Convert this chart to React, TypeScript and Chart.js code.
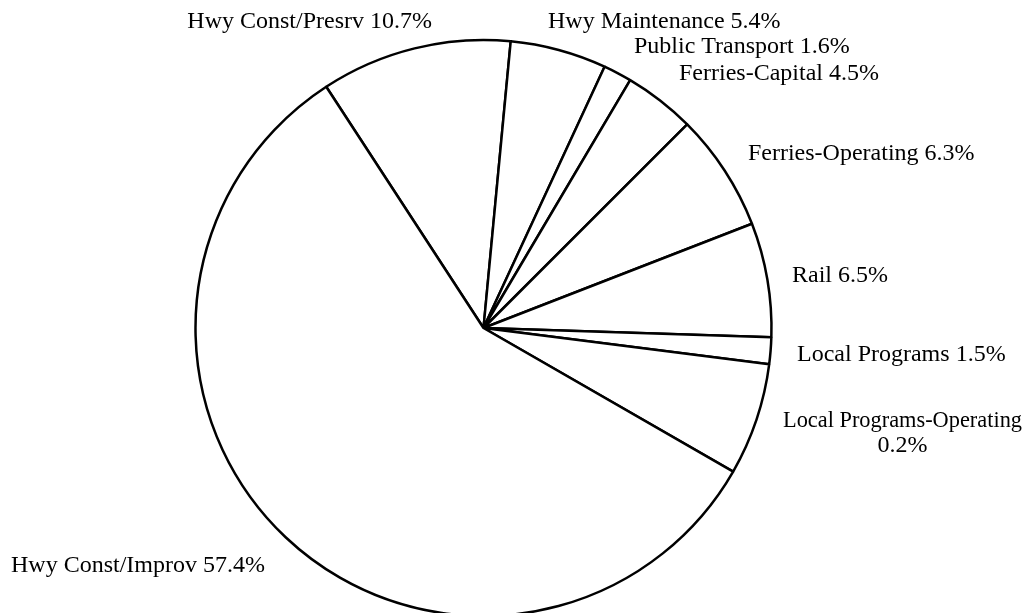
import React, { useEffect, useRef } from "react";
import { Chart, registerables } from "chart.js";

Chart.register(...registerables);

// Categories in drawing order (clockwise, starting at the upper-left boundary)
const categories = [
  "Hwy Const/Presrv",
  "Hwy Maintenance",
  "Public Transport",
  "Ferries-Capital",
  "Ferries-Operating",
  "Rail",
  "Local Programs",
  "Local Programs-Operating",
  "Hwy Const/Improv",
];

// Slice sizes as drawn in the picture (percent of the circle)
const sliceValues = [10.7, 5.4, 1.6, 4.0, 6.6, 6.4, 1.5, 6.3, 57.5];

// Percent texts as printed on the labels
const percentLabels = ["10.7%", "5.4%", "1.6%", "4.5%", "6.3%", "6.5%", "1.5%", "0.2%", "57.4%"];

// Layout: label nudges relative to the slice's outer mid-point [edge dx, baseline dy]
const labelNudges: [number, number][] = [
  [17.4, -20.1],
  [-10.7, -21.7],
  [16.4, -19.8],
  [18.9, -20.5],
  [23.2, -10.7],
  [24.6, 2.2],
  [26.4, 10],
  [26.5, 7.6],
  [-20.6, 34.7],
];

const START_ROTATION = -33.1;
const PIE_RADIUS = 288;
const FONT = '24px "Liberation Serif", "Times New Roman", serif';
const LINE_HEIGHT = 25;
const EDGE_MARGIN = 9;

const labelPlugin = {
  id: "outsideLabels",
  afterDatasetsDraw(chart: any) {
    const ctx: CanvasRenderingContext2D = chart.ctx;
    const meta = chart.getDatasetMeta(0);
    ctx.save();
    ctx.font = FONT;
    ctx.fillStyle = "#000000";
    ctx.textBaseline = "alphabetic";
    ctx.textAlign = "center";
    meta.data.forEach((arc: any, i: number) => {
      const { x, y, startAngle, endAngle, outerRadius } = arc.getProps(
        ["x", "y", "startAngle", "endAngle", "outerRadius"],
        true
      );
      const mid = (startAngle + endAngle) / 2;
      const ax = x + Math.cos(mid) * outerRadius;
      const ay = y + Math.sin(mid) * outerRadius;
      const rightSide = Math.cos(mid) >= 0;
      const [dx, dy] = labelNudges[i];
      const full = `${categories[i]} ${percentLabels[i]}`;
      const fullW = ctx.measureText(full).width;
      const edge = ax + dx;
      const room = rightSide ? chart.width - EDGE_MARGIN - edge : edge - EDGE_MARGIN;
      let lines = [full];
      if (fullW > room) {
        lines = [categories[i], percentLabels[i]];
      }
      const boxW = Math.min(room, Math.max(...lines.map((l) => ctx.measureText(l).width)));
      const left = rightSide ? edge : edge - boxW;
      lines.forEach((l, k) => {
        ctx.fillText(l, left + boxW / 2, ay + dy + k * LINE_HEIGHT, boxW);
      });
    });
    ctx.restore();
  },
};

export default function App() {
  const ref = useRef<HTMLCanvasElement>(null);

  useEffect(() => {
    if (!ref.current) return;
    const chart = new Chart(ref.current, {
      type: "pie",
      data: {
        labels: categories,
        datasets: [
          {
            data: sliceValues,
            backgroundColor: "#ffffff",
            borderColor: "#000000",
            borderWidth: 2.5,
            rotation: START_ROTATION,
            radius: PIE_RADIUS,
          } as any,
        ],
      },
      options: {
        responsive: false,
        animation: false,
        rotation: START_ROTATION,
        radius: PIE_RADIUS,
        events: [],
        layout: { padding: { left: 0, right: 64, top: 43, bottom: 0 } },
        plugins: {
          legend: { display: false },
          tooltip: { enabled: false },
        },
      } as any,
      plugins: [labelPlugin],
    });
    return () => chart.destroy();
  }, []);

  return (
    <div
      style={{
        position: "fixed",
        left: 0,
        top: 0,
        width: 1031,
        height: 613,
        background: "#ffffff",
        overflow: "hidden",
      }}
    >
      <canvas ref={ref} width={1031} height={613} style={{ display: "block" }} />
    </div>
  );
}
